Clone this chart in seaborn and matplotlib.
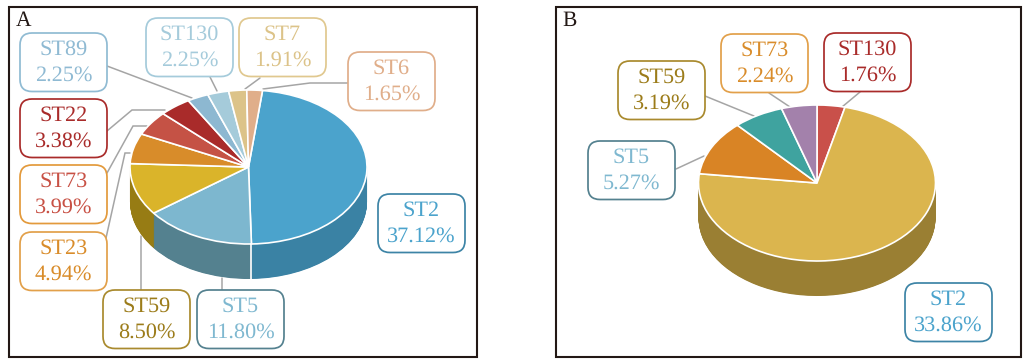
#!/usr/bin/env python3
import math

import matplotlib
matplotlib.use('Agg')
import matplotlib.pyplot as plt
from matplotlib.patches import FancyBboxPatch, Rectangle
import seaborn as sns

#****************************************************************************
# data
#****************************************************************************

nameL_a = ['ST2', 'ST5', 'ST59', 'ST23', 'ST73', 'ST22', 'ST89', 'ST130', 'ST7', 'ST6']
valueL_a = [37.12, 11.80, 8.50, 4.94, 3.99, 3.38, 2.25, 2.25, 1.91, 1.65]
wedgeL_a = ['#4ba3cc', '#7db7cf', '#dab42a', '#d88c2a', '#c55245', '#a92b2a',
            '#8db8d1', '#a5cbda', '#dcc389', '#e0ae8a']
wallL_a = ['#3a82a4', '#54818f', '#977c14', '#977c14', '#977c14', '#977c14',
           '#977c14', '#977c14', '#977c14', '#3a82a4']
textL_a = ['#4ba3cc', '#7fb8d0', '#9c7c1a', '#d98c2a', '#c85145', '#a92b2a',
           '#8fbad3', '#a5cbdb', '#dcc389', '#e0ae8a']
edgeL_a = ['#3d84a6', '#54818f', '#a98a2e', '#e2a04a', '#e39a3c', '#a92b2a',
           '#90bbd3', '#a5cbdb', '#e0c88f', '#e0ae8a']

nameL_b = ['ST130', 'ST2', 'ST5', 'ST59', 'ST73']
valueL_b = [1.76, 33.86, 5.27, 3.19, 2.24]
wedgeL_b = ['#c9504a', '#dbb54e', '#d98425', '#3fa39f', '#a381ab']
wallL_b = ['#9a7f33', '#9a7f33', '#9a7f33', '#9a7f33', '#9a7f33']
textL_b = ['#a92b2a', '#4ba3cc', '#7fb8d0', '#9c7c1a', '#d98c2a']
edgeL_b = ['#a92b2a', '#3d84a6', '#54818f', '#a98a2e', '#e2a04a']

#****************************************************************************
# layout, in pixels of the 1029x362 picture
#****************************************************************************

W, H = 1029, 362

boxH_a = {'ST2': (378, 194), 'ST5': (197, 290), 'ST59': (103, 290),
          'ST23': (20, 232), 'ST73': (20, 165), 'ST22': (20, 99),
          'ST89': (20, 33), 'ST130': (146, 18), 'ST7': (239, 18),
          'ST6': (348, 52)}
boxH_b = {'ST130': (824, 33), 'ST2': (905, 283), 'ST5': (588, 141),
          'ST59': (618, 61), 'ST73': (721, 34)}

leaderL_a = [
    [(107, 66), (192, 98)],
    [(107, 131), (132, 110), (165, 110)],
    [(107, 173), (133, 126), (147, 126)],
    [(106, 238), (125, 153), (130, 153)],
    [(140.5, 236), (140.5, 290)],
    [(222, 278), (222, 290)],
    [(210, 77), (217, 91)],
    [(260, 78), (245, 89)],
    [(348, 83), (310, 83), (263, 89)],
]
leaderL_b = [
    [(705, 96), (754, 116)],
    [(769, 93), (790, 107)],
    [(860, 92), (842, 107)],
    [(676, 169), (704, 156)],
]


def main():
    sns.set_theme(style='white')
    plt.rcParams['font.family'] = ['Liberation Serif', 'DejaVu Serif']
    plt.rcParams['text.hinting'] = 'no_hinting'

    fig = plt.figure(figsize=(W / 100, H / 100), dpi=100)

    page = fig.add_axes([0, 0, 1, 1], zorder=0)
    page.set_xlim(0, W)
    page.set_ylim(H, 0)
    page.axis('off')

    draw_panel(page, 'A', (8.5, 6.5, 477, 357), leaderL_a, boxH_a, nameL_a, valueL_a, textL_a, edgeL_a)
    draw_panel(page, 'B', (555.5, 6.5, 1021, 357), leaderL_b, boxH_b, nameL_b, valueL_b, textL_b, edgeL_b)

    draw_pie(fig, (248.5, 167, 118.5, 77, 35), valueL_a, wedgeL_a, wallL_a, 83.2)
    draw_pie(fig, (817, 183, 118.5, 78, 35), valueL_b, wedgeL_b, wallL_b, 90)

    fig.savefig('out.png', dpi=100)


def draw_panel(page, tag, frame, leaderL, boxH, nameL, valueL, textL, edgeL):
    x0, y0, x1, y1 = frame
    page.add_patch(Rectangle((x0, y0), x1 - x0, y1 - y0, fill=False,
                             edgecolor='#231815', linewidth=1.5))
    page.text(x0 + 7, y0 + 14, tag, fontsize=15.5, color='#231815', ha='left', va='center')

    for line in leaderL:
        page.plot([p[0] for p in line], [p[1] for p in line], color='#a5a5a5',
                  linewidth=1.1, solid_joinstyle='miter')

    box_w, box_h, r = 87, 58.5, 12
    for name, value, tc, ec in zip(nameL, valueL, textL, edgeL):
        x, y = boxH[name]
        page.add_patch(FancyBboxPatch((x + r, y + r), box_w - 2 * r, box_h - 2 * r,
                                      boxstyle='round,pad=%d,rounding_size=%d' % (r, r),
                                      facecolor='white', edgecolor=ec, linewidth=1.25,
                                      zorder=3))
        page.text(x + box_w / 2, y + box_h / 2, '%s\n%.2f%%' % (name, value), color=tc,
                  fontsize=16, ha='center', va='center', linespacing=1.4, zorder=4)


def draw_pie(fig, geom, valueL, colorL, wallL, start):
    cx, cy, rx, ry, depth = geom
    d = depth / ry

    ax = fig.add_axes([(cx - rx) / W, 1 - (cy + ry + depth) / H,
                       2 * rx / W, (2 * ry + depth) / H], zorder=1)
    ax.patch.set_alpha(0)

    # side wall: the same pie stacked downward, darker
    n = int(depth * 2)
    for i in range(n + 1):
        ax.pie(valueL, colors=wallL, startangle=start, counterclock=False, radius=1,
               center=(0, -d + d * i / n), wedgeprops={'linewidth': 0}, normalize=True)

    ax.pie(valueL, colors=colorL, startangle=start, counterclock=False, radius=1,
           center=(0, 0), wedgeprops={'linewidth': 1.2, 'edgecolor': 'white'})

    # white seam only near the front of the wall, the left-hand join has none
    total = sum(valueL)
    run = 0.0
    for v in valueL:
        run += v
        t = math.radians(start - 360.0 * run / total)
        x, y = math.cos(t), math.sin(t)
        if y < -0.05 and x > -0.7:
            ax.plot([x, x], [y, y - d], color='white', linewidth=1.2)

    ax.set_aspect('auto')
    ax.set_xlim(-1, 1)
    ax.set_ylim(-1 - d, 1)
    ax.axis('off')
    for a in ax.patches:
        a.set_clip_on(False)


if __name__ == '__main__':
    main()
